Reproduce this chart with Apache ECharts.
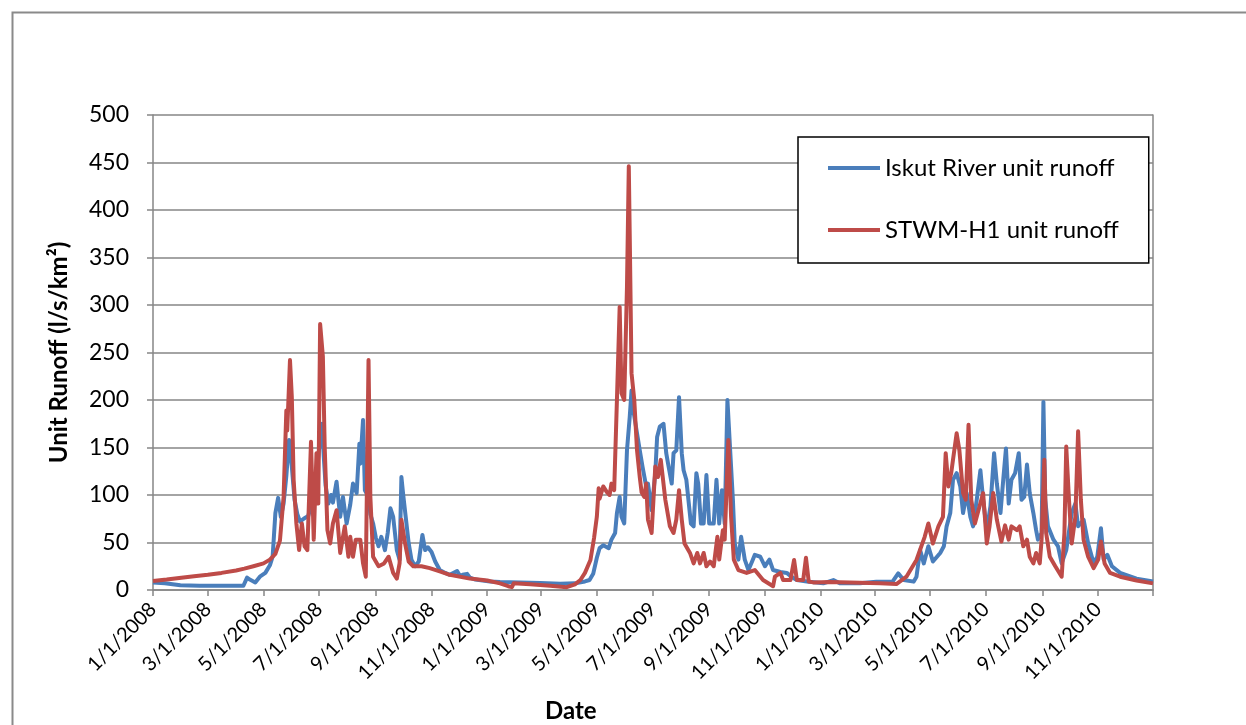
<!DOCTYPE html>
<html>
<head>
<meta charset="utf-8">
<script src="https://cdn.jsdelivr.net/npm/echarts@6/dist/echarts.min.js"></script>
<style>
  html, body { margin: 0; padding: 0; background: #fff; }
  #chart { width: 1246px; height: 725px; }
</style>
</head>
<body>
<div id="chart"></div>
<script>
// Daily unit runoff, [days since 1 Jan 2008, l/s/km²]
const iskutRunoff = [
  [0,8],[13,7],[30,5],[51,4.5],[73,4.5],[99,4.5],[103,13],[106,11],[112,8],[117,14],[123,18],[128,26],[131,35],[134,81],[137,97],[140,77],[143,91],[146,120],[149,158],[152,130],[155,95],[158,80],[161,72],[165,75],[170,78],[173,88],[176,92],[180,130],[182,150],[185,175],[187,140],[189,110],[192,91],[195,100],[197,92],[201,114],[203,95],[205,77],[208,98],[212,70],[216,90],[219,112],[223,102],[226,154],[227,133],[230,179],[232,105],[236,98],[238,80],[241,70],[244,55],[247,46],[250,56],[254,42],[257,60],[260,86],[263,77],[267,42],[270,32],[272,119],[274,100],[276,102],[280,49],[283,32],[287,25],[291,30],[292,28],[295,58],[298,42],[301,45],[305,40],[309,30],[314,21],[320,18],[325,16],[333,20],[336,15],[339,16],[344,17],[347,13],[353,11],[361,10],[369,9],[380,8.5],[402,8],[424,7.5],[446,6.5],[462,7],[473,9],[478,10.5],[482,17],[486,34],[489,44],[493,47],[499,44],[502,53],[506,60],[508,81],[511,98],[513,77],[516,70],[519,147],[522,182],[524,210],[526,189],[530,165],[533,147],[536,130],[540,109],[542,112],[546,84],[550,123],[552,161],[555,172],[559,175],[562,144],[564,133],[568,112],[570,144],[573,147],[576,203],[579,144],[581,126],[584,116],[589,70],[592,67],[595,123],[597,112],[600,70],[603,70],[606,121],[609,70],[614,70],[617,116],[620,70],[623,105],[626,70],[629,200],[632,147],[635,95],[637,49],[641,32],[644,56],[648,32],[652,21],[656,30],[659,37],[665,35],[670,25],[675,32],[679,21],[687,19],[694,18],[699,14],[705,10.5],[716,9],[734,7],[745,10.5],[752,7],[774,7],[792,8.8],[803,8.8],[810,9],[816,17.5],[822,10.5],[833,8.8],[836,14],[840,42],[844,28],[849,46],[854,30],[862,39],[866,46],[869,67],[873,81],[876,116],[880,123],[884,109],[887,81],[891,102],[895,77],[898,67],[902,95],[906,126],[909,95],[913,63],[917,88],[921,144],[924,112],[928,81],[931,116],[934,149],[937,91],[940,116],[944,123],[948,144],[951,95],[954,98],[957,132],[960,102],[964,81],[967,63],[969,53],[973,60],[975,198],[977,95],[980,67],[986,53],[991,46],[995,28],[1000,42],[1006,81],[1010,91],[1013,67],[1019,74],[1024,49],[1030,28],[1034,35],[1038,65],[1041,32],[1045,37],[1050,25],[1059,18],[1077,12],[1095,9]
];

const stwmRunoff = [
  [0,9.5],[15,11],[31,13],[45,14.5],[60,16],[75,18],[91,20.5],[100,22.5],[110,25],[121,28],[128,32],[134,38],[139,52],[143,98],[146,189],[147,168],[150,242],[152,203],[154,116],[157,70],[160,42],[163,70],[166,46],[169,42],[173,156],[176,53],[179,144],[181,91],[183,280],[186,246],[188,151],[191,63],[194,49],[197,70],[201,84],[205,39],[210,67],[214,35],[216,56],[219,35],[222,53],[227,53],[230,28],[233,14],[236,242],[238,98],[241,35],[247,25],[253,28],[258,35],[263,18],[267,12],[270,28],[272,74],[276,49],[280,30],[285,25],[294,25],[303,23],[314,19.5],[325,16],[347,12],[366,10],[380,7],[389,4],[393,3],[395,7],[413,6],[435,4.5],[453,3],[462,6],[468,10.5],[473,18],[479,31.6],[483,55],[486,77],[488,107],[489,96],[493,109],[497,103],[500,100],[502,112],[505,105],[508,200],[511,298],[513,207],[516,200],[519,319],[521,446],[522,375],[524,228],[527,200],[530,147],[533,119],[535,103],[538,98],[540,112],[542,74],[546,60],[550,130],[553,119],[556,137],[561,95],[566,67],[570,60],[573,74],[576,105],[579,74],[582,49],[588,39],[592,28],[596,39],[599,28],[603,39],[606,25],[610,30],[614,25],[618,56],[620,32],[624,63],[626,53],[630,158],[633,77],[636,32],[641,21],[650,18],[659,21],[668,10.5],[679,4],[681,14],[687,18],[690,10.5],[698,10.5],[702,31.6],[705,10.5],[712,10.5],[715,34],[718,9],[723,8],[741,8.5],[763,8],[796,7],[814,6.3],[825,14],[836,31.6],[845,56],[849,70],[854,49],[860,67],[865,77],[868,144],[871,109],[874,123],[876,137],[880,165],[883,147],[887,102],[890,95],[893,174],[896,95],[900,70],[905,88],[909,102],[913,49],[916,67],[920,102],[924,74],[929,51],[933,68],[937,53],[940,67],[946,63],[949,67],[953,46],[957,53],[960,35],[964,28],[967,39],[971,28],[973,53],[976,137],[978,60],[982,35],[988,25],[995,14],[998,60],[1000,151],[1003,95],[1006,49],[1010,77],[1013,167],[1016,95],[1019,53],[1024,35],[1030,23],[1035,32],[1038,51],[1042,28],[1048,18],[1059,14],[1077,10],[1095,7]
];

const seriesNames = ['Iskut River unit runoff', 'STWM-H1 unit runoff'];
const seriesColors = ['#4A7EBB', '#BE4B48'];

// Date axis: 1 Jan 2008 to 31 Dec 2010, major ticks every second month
const startDate = [2008, 0, 1];
const endDate = [2010, 11, 31];
const tickMonths = [
  '2008-01','2008-03','2008-05','2008-07','2008-09','2008-11',
  '2009-01','2009-03','2009-05','2009-07','2009-09','2009-11',
  '2010-01','2010-03','2010-05','2010-07','2010-09','2010-11'
];

const DAY = 86400000;
const t0 = Date.UTC(...startDate);
const lastDay = Math.round((Date.UTC(...endDate) - t0) / DAY);
const tickDays = tickMonths.map(s => {
  const [y, m] = s.split('-').map(Number);
  return Math.round((Date.UTC(y, m - 1, 1) - t0) / DAY);
});
const dayLabel = d => {
  const dt = new Date(t0 + d * DAY);
  return (dt.getUTCMonth() + 1) + '/' + dt.getUTCDate() + '/' + dt.getUTCFullYear();
};

const FONT = 'Lato';
const AXIS_GRAY = '#868686';

const chart = echarts.init(document.getElementById('chart'), null, { renderer: 'canvas' });

chart.setOption({
  animation: false,
  backgroundColor: '#fff',
  textStyle: { fontFamily: FONT },
  grid: { left: 153, right: 93, top: 115, bottom: 135, containLabel: false },
  legend: {
    orient: 'vertical',
    left: 798,
    top: 137,
    padding: [19, 30, 21, 30],
    itemGap: 38,
    itemWidth: 52,
    itemHeight: 4,
    icon: 'rect',
    borderColor: '#000',
    borderWidth: 1.5,
    backgroundColor: '#fff',
    textStyle: { fontFamily: FONT, fontSize: 24, color: '#000' },
    data: seriesNames
  },
  xAxis: {
    type: 'value',
    min: 0,
    max: lastDay,
    axisLine: { show: true, lineStyle: { color: AXIS_GRAY, width: 1.5 } },
    axisTick: {
      show: true, inside: false, length: 6,
      customValues: tickDays.concat([lastDay]),
      lineStyle: { color: AXIS_GRAY, width: 1.5 }
    },
    axisLabel: {
      customValues: tickDays,
      formatter: v => dayLabel(v),
      rotate: 45,
      margin: 16,
      fontFamily: FONT,
      fontSize: 20,
      color: '#000'
    },
    splitLine: { show: false }
  },
  yAxis: [{
    type: 'value',
    min: 0,
    max: 500,
    interval: 50,
    name: 'Unit Runoff (l/s/km²)',
    nameLocation: 'middle',
    nameRotate: 90,
    nameGap: 82,
    nameTextStyle: { fontFamily: FONT, fontSize: 24, fontWeight: 'bold', color: '#000' },
    axisLine: { show: true, lineStyle: { color: AXIS_GRAY, width: 1.5 } },
    axisTick: { show: true, length: 6, lineStyle: { color: AXIS_GRAY, width: 1.5 } },
    axisLabel: { fontFamily: FONT, fontSize: 23, color: '#000', margin: 24 },
    splitLine: { show: true, lineStyle: { color: AXIS_GRAY, width: 1.6 } }
  }, {
    type: 'value',
    position: 'right',
    min: 0,
    max: 500,
    axisLine: { show: true, lineStyle: { color: AXIS_GRAY, width: 1.5 } },
    axisTick: { show: false },
    axisLabel: { show: false },
    splitLine: { show: false }
  }],
  series: [
    {
      name: seriesNames[0],
      type: 'line',
      data: iskutRunoff,
      showSymbol: false,
      symbol: 'none',
      color: seriesColors[0],
      lineStyle: { width: 4, color: seriesColors[0], join: 'round' },
      z: 2
    },
    {
      name: seriesNames[1],
      type: 'line',
      data: stwmRunoff,
      showSymbol: false,
      symbol: 'none',
      color: seriesColors[1],
      lineStyle: { width: 4, color: seriesColors[1], join: 'round' },
      z: 3
    }
  ],
  graphic: [
    {
      type: 'rect',
      left: 10, top: 10,
      shape: { width: 1400, height: 900 },
      style: { fill: 'none', stroke: '#8a8a8a', lineWidth: 2 },
      silent: true, z: -10
    },
    {
      type: 'text',
      left: 545, top: 699,
      style: { text: 'Date', fontFamily: FONT, fontSize: 24, fontWeight: 'bold', fill: '#000' }
    }
  ]
});
</script>
</body>
</html>
